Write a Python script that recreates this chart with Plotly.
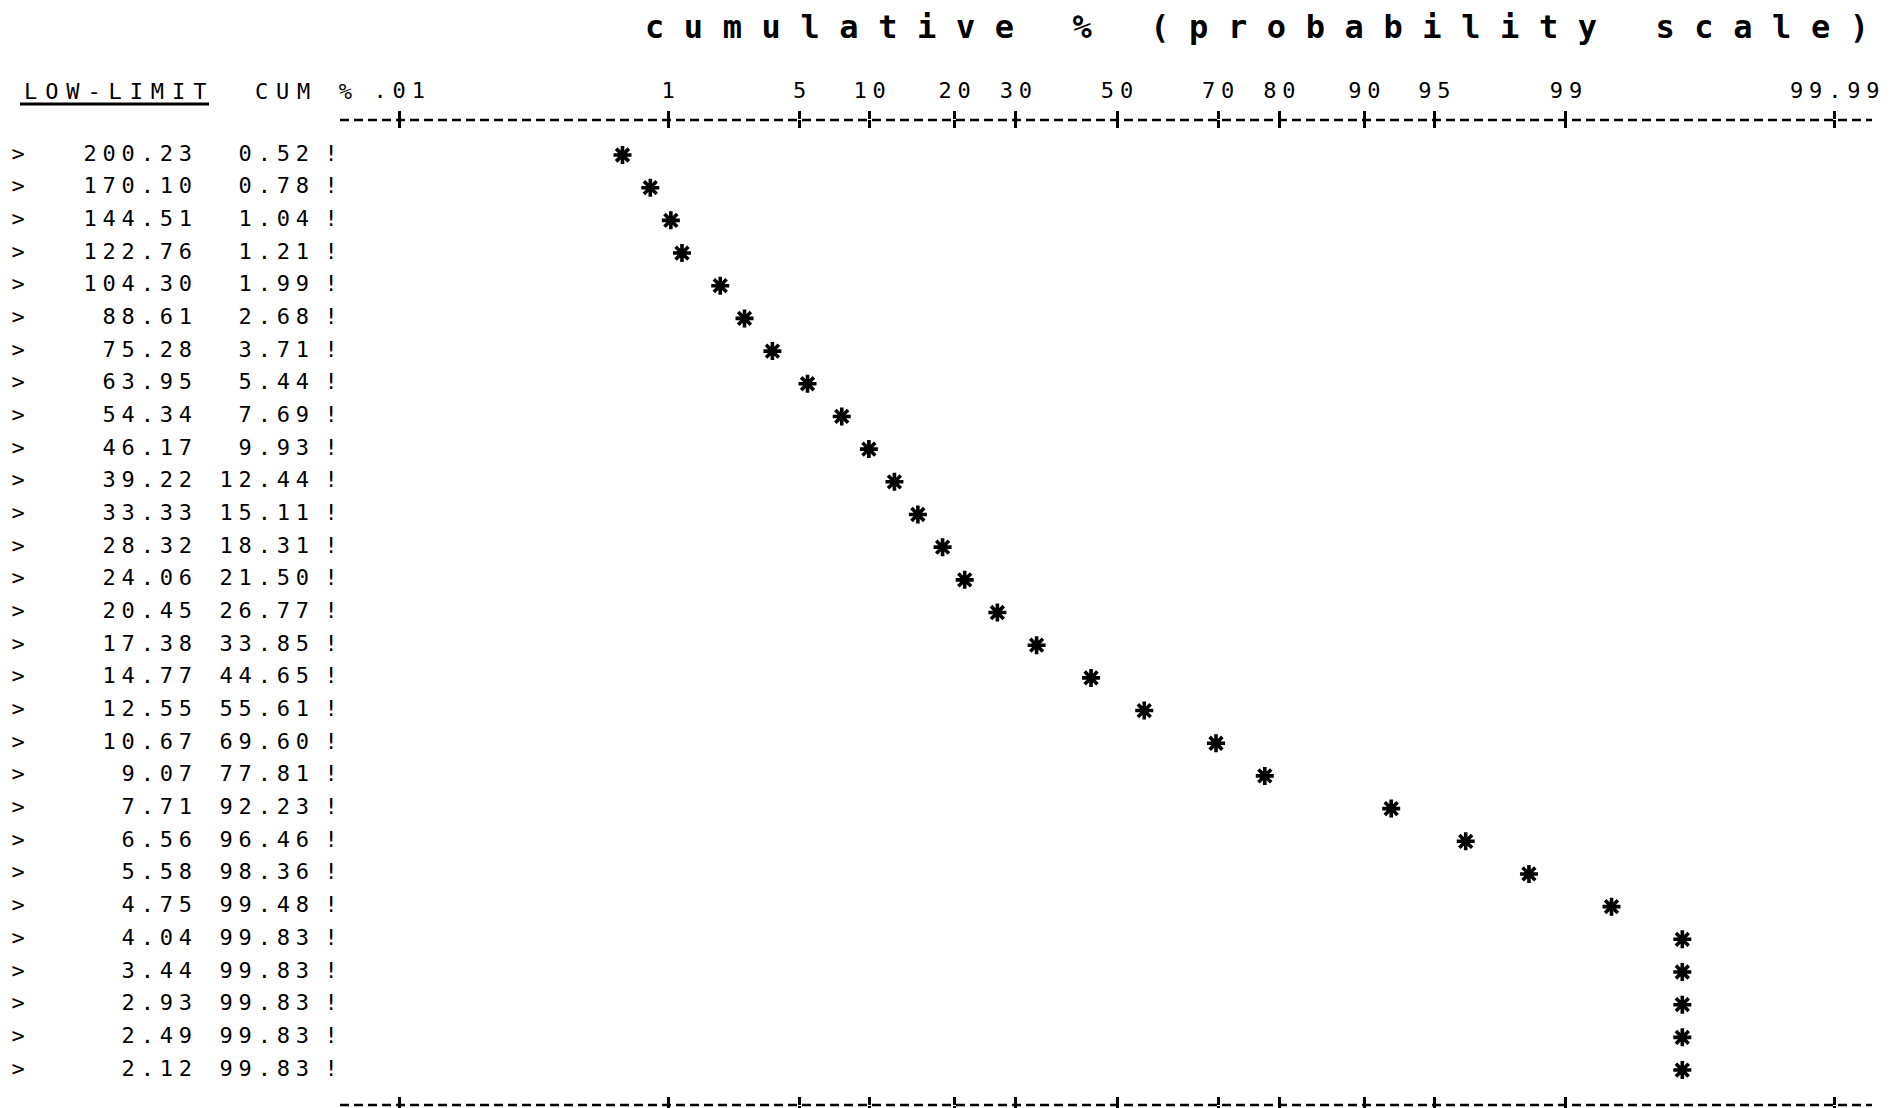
from statistics import NormalDist
import plotly.graph_objects as go

# ---------------- data ----------------
low_limit = [200.23, 170.10, 144.51, 122.76, 104.30, 88.61, 75.28, 63.95, 54.34,
             46.17, 39.22, 33.33, 28.32, 24.06, 20.45, 17.38, 14.77, 12.55,
             10.67, 9.07, 7.71, 6.56, 5.58, 4.75, 4.04, 3.44, 2.93, 2.49, 2.12]
cum_pct = [0.52, 0.78, 1.04, 1.21, 1.99, 2.68, 3.71, 5.44, 7.69, 9.93, 12.44,
           15.11, 18.31, 21.50, 26.77, 33.85, 44.65, 55.61, 69.60, 77.81,
           92.23, 96.46, 98.36, 99.48, 99.83, 99.83, 99.83, 99.83, 99.83]
tick_pct = [0.01, 1, 5, 10, 20, 30, 50, 70, 80, 90, 95, 99, 99.99]
tick_labels = [".01", "1", "5", "10", "20", "30", "50", "70", "80", "90", "95", "99", "99.99"]
title_text = "cumulative % (probability scale)"
header_low = "LOW-LIMIT"
header_cum = "CUM %"

# ---------------- layout constants ----------------
W, H = 1900, 1108
CENTER_PX, PX_PER_Z = 1117, 193.0          # probability-scale placement
PLOT_L, PLOT_R = 340, 1880                  # x-domain of probability axis (px)
ROW0_PX, ROW_PX = 155, 32.68                # row placement
TOP_PX, BOT_PX = 120, 1105                  # dashed frame lines
LINE_L, LINE_R = 340, 1872
TABLE_R = 340
COL_GT, COL_LOW, COL_CUM, COL_BANG = 18, 192, 309, 331
LS = 5.8  # letter spacing for small text
FONT = "DejaVu Sans Mono"

nd = NormalDist()


def z(p):
    return nd.inv_cdf(p / 100.0)


def sp(s, ls=LS):
    # letter-spaced text without trailing space after the last glyph
    if len(s) < 2:
        return s
    return f'<span style="letter-spacing:{ls}px">{s[:-1]}</span>{s[-1]}'


n = len(low_limit)
rows = list(range(n))

x_lo = (PLOT_L - CENTER_PX) / PX_PER_Z
x_hi = (PLOT_R - CENTER_PX) / PX_PER_Z
y_top = (TOP_PX - ROW0_PX) / ROW_PX
y_bot = (BOT_PX - ROW0_PX) / ROW_PX

small = dict(family=FONT, size=22, color="black")

fig = go.Figure()

# table columns
fig.add_trace(go.Scatter(x=[COL_GT] * n, y=rows, mode="text", text=[">"] * n,
                         textposition="middle center", textfont=small,
                         xaxis="x2", yaxis="y", hoverinfo="skip", showlegend=False))
fig.add_trace(go.Scatter(x=[COL_LOW] * n, y=rows, mode="text",
                         text=[sp(f"{v:.2f}") for v in low_limit],
                         textposition="middle left", textfont=small,
                         xaxis="x2", yaxis="y", hoverinfo="skip", showlegend=False))
fig.add_trace(go.Scatter(x=[COL_CUM] * n, y=rows, mode="text",
                         text=[sp(f"{v:.2f}") for v in cum_pct],
                         textposition="middle left", textfont=small,
                         xaxis="x2", yaxis="y", hoverinfo="skip", showlegend=False))
fig.add_trace(go.Scatter(x=[COL_BANG] * n, y=rows, mode="text", text=["!"] * n,
                         textposition="middle center", textfont=small,
                         xaxis="x2", yaxis="y", hoverinfo="skip", showlegend=False))

# stars on probability scale
fig.add_trace(go.Scatter(x=[z(p) for p in cum_pct], y=rows, mode="markers",
                         marker=dict(symbol="asterisk-open", size=15,
                                     line=dict(width=3.6, color="black"), color="black"),
                         xaxis="x", yaxis="y", showlegend=False,
                         customdata=cum_pct,
                         hovertemplate="%{customdata:.2f}%<extra></extra>"))
# empty trace so that the overlaying tick axis is drawn
fig.add_trace(go.Scatter(x=[], y=[], xaxis="x3", yaxis="y", showlegend=False,
                         hoverinfo="skip"))

tickvals = [z(p) for p in tick_pct]

fig.update_layout(
    width=W, height=H, autosize=False,
    margin=dict(l=0, r=0, t=0, b=0),
    paper_bgcolor="white", plot_bgcolor="white",
    xaxis=dict(domain=[PLOT_L / W, PLOT_R / W], range=[x_lo, x_hi], side="top",
               anchor="y", tickmode="array", tickvals=tickvals,
               ticktext=[sp(t) for t in tick_labels], tickfont=small,
               ticks="outside", ticklen=8, tickwidth=2.5, tickcolor="black",
               mirror="ticks", showline=False, showgrid=False, zeroline=False,
               ticklabelstandoff=4),
    xaxis3=dict(overlaying="x", range=[x_lo, x_hi], side="top", anchor="y",
                tickmode="array", tickvals=tickvals, showticklabels=False,
                ticks="inside", ticklen=8, tickwidth=2.5, tickcolor="black",
                mirror="ticks", showline=False, showgrid=False, zeroline=False),
    xaxis2=dict(domain=[0, TABLE_R / W], range=[0, TABLE_R], anchor="y",
                visible=False, showgrid=False, zeroline=False),
    yaxis=dict(domain=[1 - BOT_PX / H, 1 - TOP_PX / H], range=[y_bot, y_top],
               visible=False, showgrid=False, zeroline=False),
    shapes=[
        dict(type="line", xref="paper", yref="y domain", x0=LINE_L / W, x1=LINE_R / W,
             y0=1, y1=1, line=dict(color="black", width=2.5, dash="9px,5px")),
        dict(type="line", xref="paper", yref="y domain", x0=LINE_L / W, x1=LINE_R / W,
             y0=0, y1=0, line=dict(color="black", width=2.5, dash="9px,5px")),
        dict(type="line", xref="paper", yref="paper", x0=20 / W, x1=209 / W,
             y0=1 - 104 / H, y1=1 - 104 / H, line=dict(color="black", width=3)),
    ],
    annotations=[
        dict(text=sp(title_text, 19.6),
             x=1257 / W, y=1 - 27 / H, xref="paper", yref="paper",
             xanchor="center", yanchor="middle", showarrow=False,
             font=dict(family=FONT, size=32, color="black", weight="bold")),
        dict(text=sp(header_low, 7.9), x=115 / W, y=1 - 91 / H, xref="paper", yref="paper",
             xanchor="center", yanchor="middle", showarrow=False, font=small),
        dict(text=sp(header_cum, 7.7), x=303 / W, y=1 - 91 / H, xref="paper", yref="paper",
             xanchor="center", yanchor="middle", showarrow=False, font=small),
    ],
)

fig.write_html("out.html", config={"displayModeBar": False},
               post_script="document.body.style.margin='0';document.body.style.padding='0';")
